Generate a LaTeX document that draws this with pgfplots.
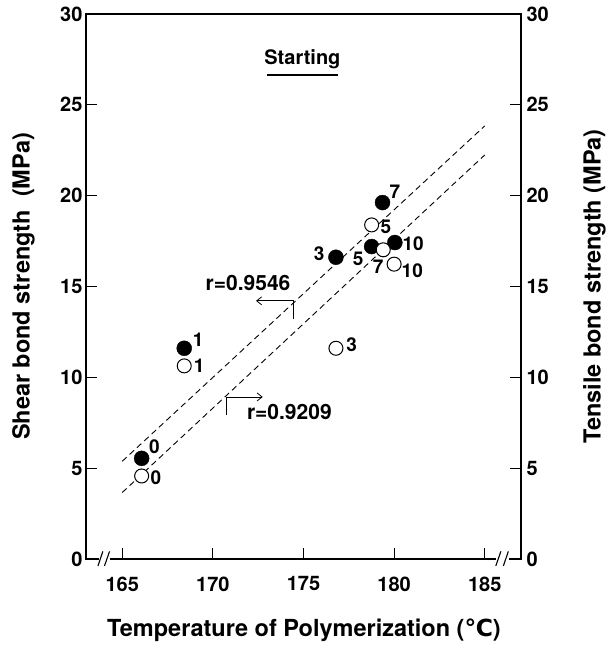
\documentclass[border=0pt]{standalone}
\usepackage{fontspec}
\setmainfont{TeX Gyre Heros}
\newfontfamily\dejavu{DejaVu Sans}
\usepackage{pgfplots}
\pgfplotsset{compat=1.18}
\usetikzlibrary{arrows.meta}

\begin{document}
\begin{tikzpicture}
\useasboundingbox (-86pt,-89pt) rectangle (520pt,559pt);
\begin{axis}[
  at={(0,0)}, anchor=south west, scale only axis,
  width=435pt, height=545pt,
  xmin=163, xmax=187, ymin=0, ymax=30,
  clip=false,
  separate axis lines,
  x axis line style={draw=none},
  y axis line style={line width=1.6pt},
  tick align=inside,
  major tick length=11pt,
  xtick={165,170,...,185}, xtick pos=left,
  ytick={0,5,...,30}, ytick pos=both, yticklabel pos=left,
  every tick/.style={black, line width=1pt},
  tick label style={font=\fontsize{20}{22}\selectfont\bfseries},
  /pgf/number format/assume math mode=true,
  xticklabel style={yshift=-14pt},
  xlabel={Temperature of Polymerization ({\dejavu ℃})},
  ylabel={Shear bond strength\ \ (MPa)},
  xlabel style={font=\fontsize{23.5}{26}\selectfont\bfseries, at={(axis description cs:0.501,-0.1426)}, anchor=base, inner sep=0pt},
  ylabel style={font=\fontsize{23.5}{26}\selectfont\bfseries, at={(axis description cs:-0.170,0.5)}, anchor=north, inner sep=0pt},
]
% regression lines
\addplot[black, line width=0.9pt, dash pattern=on 6pt off 4pt] coordinates {(165,5.38) (185,23.84)};
\addplot[black, line width=0.9pt, dash pattern=on 6pt off 4pt] coordinates {(165,3.66) (185,22.24)};
% shear (filled)
\addplot[only marks, mark=*, mark size=7.5pt, mark options={fill=black, draw=black}] coordinates {
(166.07,5.54) (168.42,11.60) (176.79,16.61) (178.76,17.20) (179.36,19.62) (180.04,17.42)};
% tensile (open)
\addplot[only marks, mark=*, mark size=7pt, mark options={fill=white, draw=black, line width=1pt}] coordinates {
(166.07,4.57) (168.42,10.63) (176.79,11.60) (178.76,18.39) (179.40,17.02) (180.00,16.23)};
% frame lines (top and broken bottom)
\draw[line width=1.6pt, line cap=rect] (axis cs:163,30) -- (axis cs:187,30);
\draw[line width=1.6pt, line cap=rect] (axis cs:163,0) -- (axis cs:163.66,0);
\draw[line width=1.6pt] (axis cs:164.32,0) -- (axis cs:185.61,0);
\draw[line width=1.6pt, line cap=rect] (axis cs:186.39,0) -- (axis cs:187,0);
\draw[line width=1.1pt] (axis cs:163.66,-0.38) -- (axis cs:163.93,0.42);
\draw[line width=1.1pt] (axis cs:164.02,-0.38) -- (axis cs:164.30,0.42);
\draw[line width=1.1pt] (axis cs:185.61,-0.38) -- (axis cs:185.89,0.42);
\draw[line width=1.1pt] (axis cs:186.03,-0.38) -- (axis cs:186.30,0.42);
% point labels
\begin{scope}[every node/.style={font=\fontsize{19}{21}\selectfont\bfseries, inner sep=0pt}]
\node at (axis cs:180.04,20.23) {7};
\node at (axis cs:179.55,18.30) {5};
\node at (axis cs:181.05,17.38) {10};
\node at (axis cs:175.87,16.83) {3};
\node at (axis cs:178.02,16.50) {5};
\node at (axis cs:179.12,16.10) {7};
\node at (axis cs:181.00,15.88) {10};
\node at (axis cs:169.19,12.06) {1};
\node at (axis cs:169.25,10.63) {1};
\node at (axis cs:177.65,11.82) {3};
\node at (axis cs:166.77,6.18) {0};
\node at (axis cs:166.86,4.50) {0};
\end{scope}
% annotations
\node[font=\fontsize{21}{23}\selectfont\bfseries, inner sep=0pt] at (axis cs:171.94,15.20) {r=0.9546};
\node[font=\fontsize{21}{23}\selectfont\bfseries, inner sep=0pt] at (axis cs:174.22,8.11) {r=0.9209};
\draw[line width=0.8pt, -{Straight Barb[length=5pt,width=8pt]}] (axis cs:174.42,13.20) -- (axis cs:174.42,14.21) -- (axis cs:172.38,14.21);
\draw[line width=0.8pt, -{Straight Barb[length=5pt,width=8pt]}] (axis cs:170.72,7.93) -- (axis cs:170.72,8.92) -- (axis cs:172.75,8.92);
\node[font=\fontsize{20}{22}\selectfont\bfseries, inner sep=0pt, anchor=base] at (axis cs:174.94,27.2) {Starting};
\draw[line width=2pt] (axis cs:172.97,26.65) -- (axis cs:176.92,26.65);
\end{axis}
\begin{axis}[
  at={(0,0)}, anchor=south west, scale only axis,
  width=435pt, height=545pt,
  xmin=163, xmax=187, ymin=0, ymax=30,
  axis line style={draw=none},
  xtick=\empty,
  ytick={0,5,...,30}, ytick pos=right, yticklabel pos=right,
  major tick length=0pt,
  tick label style={font=\fontsize{20}{22}\selectfont\bfseries},
  yticklabel style={xshift=2pt},
  /pgf/number format/assume math mode=true,
  ylabel={Tensile bond strength (MPa)},
  ylabel style={font=\fontsize{23.5}{26}\selectfont\bfseries, at={(axis description cs:1.1425,0.5)}, anchor=north, inner sep=0pt},
]
\end{axis}
\end{tikzpicture}
\end{document}
